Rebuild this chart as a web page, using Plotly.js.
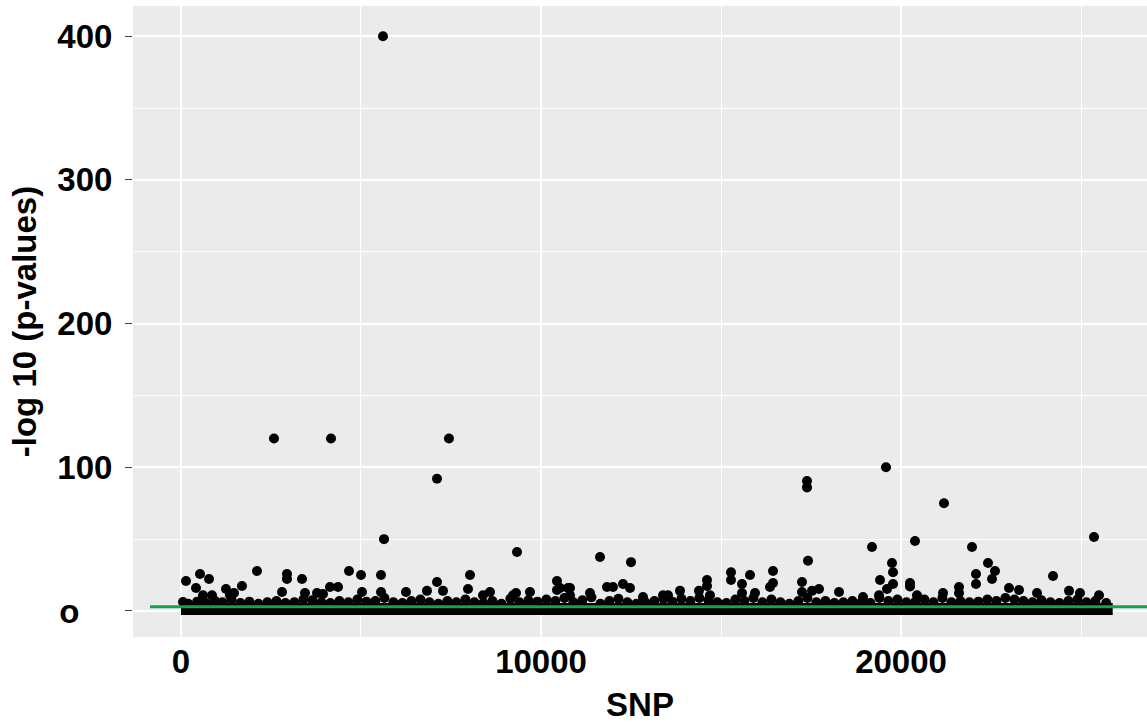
<!DOCTYPE html>
<html>
<head>
<meta charset="utf-8">
<script src="https://cdn.plot.ly/plotly-3.0.1.min.js"></script>
<style>html,body{margin:0;padding:0;background:#fff;}#chart{width:1147px;height:723px;}</style>
</head>
<body>
<div id="chart"></div>
<script>
// Dense band of SNPs with -log10(p) near zero (drawn as a thick line across the SNP range)
const bandSnp = [0, 25880];
const bandLogP = [1.4, 1.4];

// Points just above the dense band
const lowSnp = [200,450,700,950,1150,1400,1650,1900,2150,2400,2650,2900,3150,3400,3650,3900,4150,4400,4650,4900,5150,5400,5650,5900,6150,6400,6650,6900,7150,7400,7650,7900,8150,8400,8650,8900,9150,9400,9650,9900,10150,10400,10650,10900,11150,11400,11650,11900,12150,12400,12650,12900,13150,13400,13650,13900,14150,14400,14650,14900,15150,15400,15650,15900,16150,16400,16650,16900,17150,17400,17650,17900,18150,18400,18650,18900,19150,19400,19650,19900,20150,20400,20650,20900,21150,21400,21650,21900,22150,22400,22650,22900,23150,23400,23650,23900,24150,24400,24650,24900,25150,25400,25700];
const lowLogP = [5,6.5,5.5,7,6,8,5.5,6.5,5,6,7,5.5,6,8,7.5,6,5.5,7,6,8,6.5,7,9,6,5.5,7,8,6,5,7,6,8,6,5.5,7,5,8.5,6,7.5,6.5,8,7,9,6,7.5,9.5,5,7,8.5,6,5,6,7,8.5,6.5,8.5,7,9,7.5,6,5.5,8,7,9,6,8,6,5,7,9,6,7,5.5,6,7,6,5.5,9,7,8,6,6.5,8,6,9,6,7,6,6.5,8,7,9,8,7,6,7.5,6,5.5,7,8,6,7,5.5];

// Clearly separated SNPs
const hitSnp = [5611,2583,4167,7444,7111,5639,9333,17389,17389,19583,21194,19194,20389,21972,25361,11639,12500,17417,19750,22417,24222,15278,15806,16444,19778,22083,22611,15278,15583,16444,17250,19417,19778,22083,22528,20250,20250,14611,14611,13861,14389,15583,15944,16361,17250,17528,17722,18278,19389,19611,21167,21611,21611,23000,23278,23778,24667,24972,25500,13389,13528,139,528,778,417,2111,2944,2944,3361,1694,1250,1472,4667,5000,5556,7111,8028,10444,10444,10806,11833,12000,12278,12472,11361,2806,4139,4361,3444,3778,5028,5556,6250,6833,7278,7972,8583,9306,9694,611,861,1361,3944,8389,10528,10750,10806,12833,13500,14694,18944,20444,9222,56];
const hitLogP = [400,120,120,120,92,50,41,90.5,86,100,75,44.5,48.7,44.5,51.5,37.6,34,35,33.4,33.4,24.4,27,25,27.8,27,25.7,27.8,21.6,18.8,19.5,20.2,21.6,18.8,18.8,22.3,19.5,17,21.6,17.4,14,14,12.5,12.5,16.7,13.2,14,15.3,13.2,11,15.3,12.5,16.7,12.5,16,14.6,12.5,14,12.5,11,11,11,20.9,25.7,22.3,16,27.8,25.7,22.3,22.3,17.4,15.3,12.5,27.8,25,25,20.2,25,20.9,14.6,16,16.7,16.7,18.8,16,12.5,13.2,16.7,16.7,12.5,12.5,13.2,13.2,13.2,14,14,15.3,13.2,12.5,13.2,11,11,11,11.8,11,16,16,11,9.7,9.7,11,9.7,11,11,6.3];

// Significance threshold line
const thresholdSnp = [-861, 27500];
const thresholdLogP = [3, 3];

// Axis ticks
const yTickVals = [0, 100, 200, 300, 400];
const yTickText = ["o\u2002\u2002", "100", "200", "300", "400"];
const xTickVals = [0, 10000, 20000];
const xTickText = ["0", "10000", "20000"];

const font = "Liberation Sans, Arial, sans-serif";

const traces = [
  {x: bandSnp, y: bandLogP, mode: "lines", line: {color: "#000", width: 12}, hoverinfo: "skip", showlegend: false},
  {x: lowSnp, y: lowLogP, mode: "markers", marker: {color: "#000", size: 10}, showlegend: false},
  {x: hitSnp, y: hitLogP, mode: "markers", marker: {color: "#000", size: 10}, showlegend: false},
  {x: thresholdSnp, y: thresholdLogP, mode: "lines", line: {color: "#12A54A", width: 3}, hoverinfo: "skip", showlegend: false}
];

const layout = {
  width: 1147, height: 723,
  margin: {l: 133, r: 0, t: 6, b: 86},
  paper_bgcolor: "#ffffff",
  plot_bgcolor: "#EBEBEB",
  showlegend: false,
  font: {family: font, color: "#000"},
  xaxis: {
    range: [-1333, 26833],
    tickvals: xTickVals, ticktext: xTickText,
    ticks: "", showline: false, zeroline: false,
    gridcolor: "#ffffff", gridwidth: 2,
    minor: {dtick: 5000, tick0: 5000, showgrid: true, gridcolor: "#ffffff", gridwidth: 1},
    tickfont: {family: font, size: 33, color: "#000", weight: "bold"},
    ticklabelstandoff: 2,
    title: {text: "<b>SNP</b>", font: {family: font, size: 33, color: "#000"}, standoff: 20},
    automargin: false
  },
  yaxis: {
    range: [-18.1, 421],
    tickvals: yTickVals, ticktext: yTickText,
    ticks: "outside", ticklen: 7, tickcolor: "#444", tickwidth: 1,
    showline: false, zeroline: false,
    gridcolor: "#ffffff", gridwidth: 2,
    minor: {dtick: 50, tick0: 50, showgrid: true, gridcolor: "#ffffff", gridwidth: 1, ticks: ""},
    tickfont: {family: font, size: 33, color: "#000", weight: "bold"},
    ticklabelstandoff: 6,
    title: {text: "<b>-log 10 (p-values)</b>", font: {family: font, size: 33, color: "#000"}, standoff: 10},
    automargin: false
  }
};

Plotly.newPlot("chart", traces, layout, {staticPlot: true, displayModeBar: false});
</script>
</body>
</html>
